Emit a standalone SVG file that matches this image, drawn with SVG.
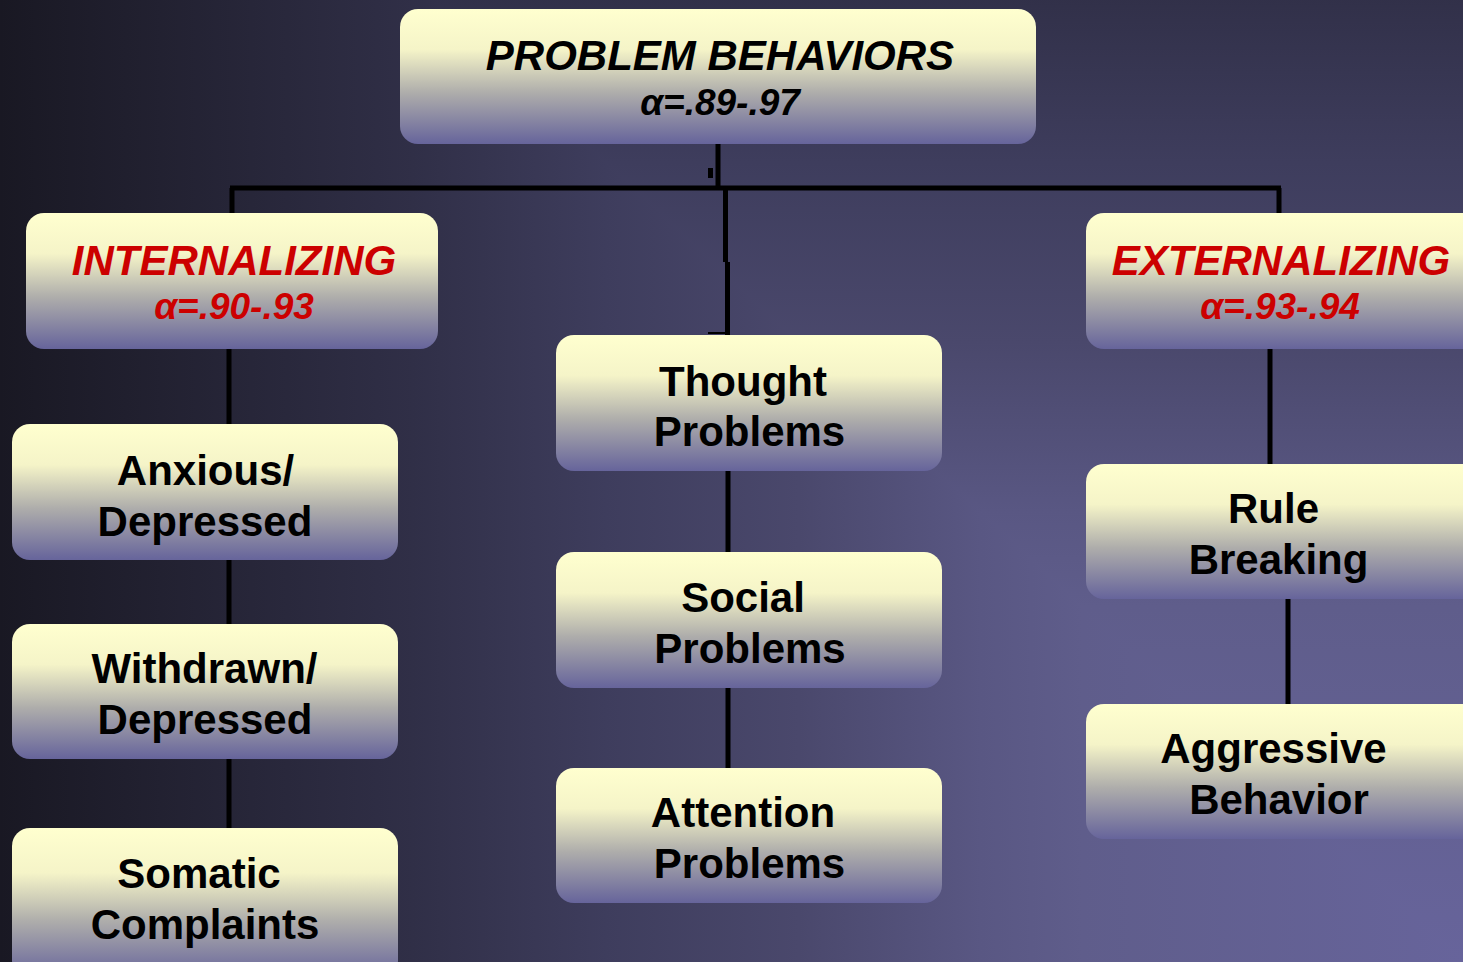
<svg xmlns="http://www.w3.org/2000/svg" width="1463" height="962" viewBox="0 0 1463 962">
  <defs>
    <!-- rectangular "from corner" backdrop: an x-driven part and a y-driven part sharing one ramp -->
    <linearGradient id="bgx" gradientUnits="userSpaceOnUse" x1="1463" y1="0" x2="0" y2="0">
      <stop offset="0" stop-color="#67649b"/>
      <stop offset="0.26" stop-color="#5f5d8b"/>
      <stop offset="0.33" stop-color="#595783"/>
      <stop offset="0.454" stop-color="#4a486c"/>
      <stop offset="0.586" stop-color="#3e3d5d"/>
      <stop offset="0.718" stop-color="#302f47"/>
      <stop offset="1" stop-color="#191823"/>
    </linearGradient>
    <linearGradient id="bgy" href="#bgx" xlink:href="#bgx" xmlns:xlink="http://www.w3.org/1999/xlink" gradientUnits="userSpaceOnUse" x1="0" y1="962" x2="0" y2="-403"/>
    <linearGradient id="box" x1="0" y1="0" x2="0" y2="1">
      <stop offset="0" stop-color="#ffffcf"/>
      <stop offset="0.3" stop-color="#f5f4c8"/>
      <stop offset="0.62" stop-color="#aeadab"/>
      <stop offset="1" stop-color="#66649b"/>
    </linearGradient>
  </defs>
  <style>
    .node rect { fill: url(#box); }
    .t { font-family: "Liberation Sans", Arial, sans-serif; font-weight: bold; font-size: 42px; fill: #000; text-anchor: middle; }
    .hd { font-style: italic; }
    .a { font-size: 37px; }
    .red { fill: #cc0000; }
    .wire { stroke: #000; stroke-width: 5; fill: none; }
  </style>

  <rect width="1463" height="962" fill="url(#bgx)"/>
  <polygon points="1463,962 432,0 1463,0" fill="url(#bgy)"/>

  <g id="connectors" class="wire">
    <path d="M718 144 V188"/>
    <rect x="708" y="168" width="5" height="10" fill="#000" stroke="none"/>
    <path d="M230 188 H1281"/>
    <path d="M232 188 V213"/>
    <path d="M1279 188 V213"/>
    <path d="M725.5 188 V262"/>
    <path d="M727.5 262 V335"/>
    <path d="M708 333 H730" stroke-width="2"/>
    <path d="M229 349 V424"/>
    <path d="M229 560 V624"/>
    <path d="M229 759 V828"/>
    <path d="M728 471 V552"/>
    <path d="M728 688 V768"/>
    <path d="M1270 349 V464"/>
    <path d="M1288 599 V704"/>
  </g>

  <g id="problem-behaviors" class="node">
    <rect x="400" y="9" width="636" height="135" rx="18"/>
    <text class="t hd" x="720" y="70">PROBLEM BEHAVIORS</text>
    <text class="t hd a" x="720" y="115">α=.89-.97</text>
  </g>

  <g id="internalizing" class="node">
    <rect x="26" y="213" width="412" height="136" rx="18"/>
    <text class="t hd red" x="234" y="275">INTERNALIZING</text>
    <text class="t hd a red" x="234" y="319">α=.90-.93</text>
  </g>

  <g id="externalizing" class="node">
    <rect x="1086" y="213" width="400" height="136" rx="18"/>
    <text class="t hd red" x="1281" y="275">EXTERNALIZING</text>
    <text class="t hd a red" x="1280" y="319">α=.93-.94</text>
  </g>

  <g id="thought-problems" class="node">
    <rect x="556" y="335" width="386" height="136" rx="18"/>
    <text class="t" x="743" y="396">Thought</text>
    <text class="t" x="749.5" y="446">Problems</text>
  </g>

  <g id="social-problems" class="node">
    <rect x="556" y="552" width="386" height="136" rx="18"/>
    <text class="t" x="743" y="612">Social</text>
    <text class="t" x="750" y="663">Problems</text>
  </g>

  <g id="attention-problems" class="node">
    <rect x="556" y="768" width="386" height="135" rx="18"/>
    <text class="t" x="743" y="827">Attention</text>
    <text class="t" x="749.5" y="878">Problems</text>
  </g>

  <g id="anxious-depressed" class="node">
    <rect x="12" y="424" width="386" height="136" rx="18"/>
    <text class="t" x="205.5" y="485">Anxious/</text>
    <text class="t" x="205" y="536">Depressed</text>
  </g>

  <g id="withdrawn-depressed" class="node">
    <rect x="12" y="624" width="386" height="135" rx="18"/>
    <text class="t" x="204.5" y="683">Withdrawn/</text>
    <text class="t" x="205" y="734">Depressed</text>
  </g>

  <g id="somatic-complaints" class="node">
    <rect x="12" y="828" width="386" height="150" rx="18"/>
    <text class="t" x="199" y="888">Somatic</text>
    <text class="t" x="205" y="939">Complaints</text>
  </g>

  <g id="rule-breaking" class="node">
    <rect x="1086" y="464" width="400" height="135" rx="18"/>
    <text class="t" x="1273.5" y="523">Rule</text>
    <text class="t" x="1278.5" y="574">Breaking</text>
  </g>

  <g id="aggressive-behavior" class="node">
    <rect x="1086" y="704" width="400" height="135" rx="18"/>
    <text class="t" x="1273.5" y="763">Aggressive</text>
    <text class="t" x="1279" y="814">Behavior</text>
  </g>
</svg>
